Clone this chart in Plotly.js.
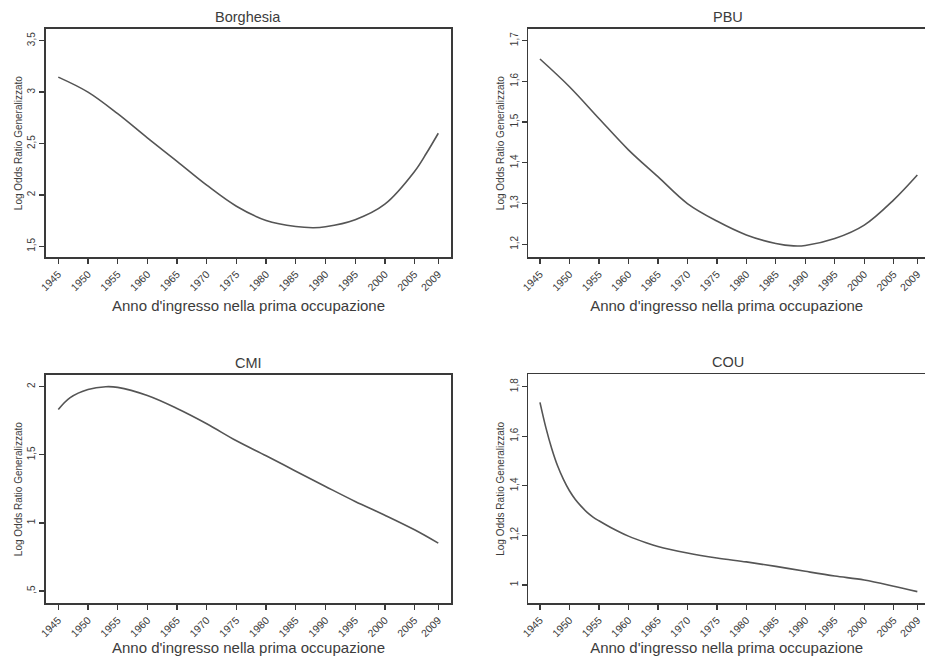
<!DOCTYPE html>
<html>
<head>
<meta charset="utf-8">
<script src="https://cdn.plot.ly/plotly-3.0.1.min.js"></script>
<style>html,body{margin:0;padding:0;background:#fff;}#chart{width:925px;height:656px;}</style>
</head>
<body>
<div id="chart"></div>
<script>
// ---- data ----
var panelTitles = ["Borghesia", "PBU", "CMI", "COU"];
var xTitle = "Anno d'ingresso nella prima occupazione";
var yTitle = "Log Odds Ratio Generalizzato";

var xTickVals = [1945, 1950, 1955, 1960, 1965, 1970, 1975, 1980, 1985, 1990, 1995, 2000, 2005, 2009];
var xTickText = ["1945", "1950", "1955", "1960", "1965", "1970", "1975", "1980", "1985", "1990", "1995", "2000", "2005", "2009"];

var borghesiaYears = [1945, 1950, 1955, 1960, 1965, 1970, 1975, 1980, 1985, 1988, 1990, 1995, 2000, 2005, 2007, 2009];
var borghesiaVals  = [3.146, 3.0, 2.79, 2.555, 2.327, 2.095, 1.89, 1.752, 1.692, 1.681, 1.69, 1.759, 1.91, 2.228, 2.405, 2.60];

var pbuYears = [1945, 1950, 1955, 1960, 1965, 1970, 1975, 1980, 1985, 1988, 1990, 1995, 2000, 2005, 2009];
var pbuVals  = [1.655, 1.587, 1.509, 1.432, 1.366, 1.30, 1.257, 1.223, 1.202, 1.196, 1.197, 1.214, 1.247, 1.309, 1.37];

var cmiYears = [1945, 1947, 1950, 1953, 1955, 1960, 1965, 1970, 1975, 1980, 1985, 1990, 1995, 2000, 2005, 2009];
var cmiVals  = [1.833, 1.92, 1.98, 2.0, 1.995, 1.935, 1.84, 1.728, 1.603, 1.493, 1.38, 1.268, 1.158, 1.057, 0.95, 0.852];

var couYears = [1945, 1946, 1947, 1948, 1949, 1950, 1951, 1952, 1953, 1954, 1955, 1957, 1960, 1963, 1965, 1970, 1975, 1980, 1985, 1990, 1995, 2000, 2005, 2009];
var couVals  = [1.737, 1.635, 1.55, 1.48, 1.425, 1.38, 1.345, 1.317, 1.293, 1.274, 1.259, 1.232, 1.197, 1.17, 1.155, 1.129, 1.109, 1.093, 1.075, 1.055, 1.036, 1.02, 0.995, 0.973];

var yTickVals = [[1.5, 2, 2.5, 3, 3.5], [1.2, 1.3, 1.4, 1.5, 1.6, 1.7], [0.5, 1, 1.5, 2], [1, 1.2, 1.4, 1.6, 1.8]];
var yTickText = [["1,5", "2", "2,5", "3", "3,5"], ["1,2", "1,3", "1,4", "1,5", "1,6", "1,7"], [",5", "1", "1,5", "2"], ["1", "1,2", "1,4", "1,6", "1,8"]];

// ---- build ----
var W = 925, H = 656;
var FONT = "Liberation Sans, Arial, Helvetica, sans-serif";
var lineCol = "#555555", axCol = "#3a3a3a", txtCol = "#3c3c3c";

var series = [[borghesiaYears, borghesiaVals], [pbuYears, pbuVals], [cmiYears, cmiVals], [couYears, couVals]];
var traces = series.map(function (s, i) {
  return {
    x: s[0], y: s[1], type: "scatter", mode: "lines",
    line: {color: lineCol, width: 1.6, shape: "spline", smoothing: 1},
    xaxis: "x" + (i ? i + 1 : ""), yaxis: "y" + (i ? i + 1 : ""),
    hoverinfo: "x+y", showlegend: false
  };
});

// pixel geometry of plot boxes
var boxes = [
  {l: 46, r: 451, t: 29, b: 257.3},
  {l: 528.3, r: 925, t: 29, b: 257.3},
  {l: 46, r: 451, t: 375, b: 603.3},
  {l: 528.3, r: 925, t: 374.3, b: 603.3}
];
var xRanges = [[1942.93, 2011.14], [1943.02, 2010.3], [1942.93, 2011.14], [1943.02, 2010.3]];
var yRanges = [[1.393, 3.614], [1.168, 1.7287], [0.41, 2.086], [0.926, 1.85]];

var layout = {
  width: W, height: H,
  margin: {l: 0, r: 0, t: 0, b: 0},
  paper_bgcolor: "#ffffff", plot_bgcolor: "#ffffff",
  font: {family: FONT, color: txtCol},
  showlegend: false,
  annotations: []
};

boxes.forEach(function (bx, i) {
  var sfx = i ? String(i + 1) : "";
  var right = (i === 1 || i === 3);
  layout["xaxis" + sfx] = {
    domain: [bx.l / W, Math.min(bx.r / W, 1)],
    range: xRanges[i],
    anchor: "y" + sfx,
    tickmode: "array", tickvals: xTickVals, ticktext: xTickText,
    tickangle: -45,
    ticks: "outside", ticklen: 5, tickwidth: 1.3, tickcolor: axCol,
    tickfont: {size: 10.5, color: txtCol, family: FONT},
    showline: true, linecolor: axCol, linewidth: 1.8, mirror: true,
    showgrid: false, zeroline: false, fixedrange: true,
    title: {text: xTitle, font: {size: 15, color: txtCol, family: FONT}, standoff: 8}
  };
  layout["yaxis" + sfx] = {
    domain: [1 - bx.b / H, 1 - bx.t / H],
    range: yRanges[i],
    anchor: "x" + sfx,
    tickmode: "array", tickvals: yTickVals[i], ticktext: yTickText[i],
    tickangle: -90,
    ticks: "outside", ticklen: 5, tickwidth: 1.3, tickcolor: axCol,
    tickfont: {size: 10, color: txtCol, family: FONT},
    showline: true, linecolor: axCol, linewidth: 1.8, mirror: !right,
    showgrid: false, zeroline: false, fixedrange: true,
    title: {text: yTitle, font: {size: 10, color: txtCol, family: FONT}, standoff: 2}
  };
  layout.annotations.push({
    text: panelTitles[i], showarrow: false,
    xref: "paper", yref: "paper",
    x: ((bx.l + Math.min(bx.r, 930)) / 2 + (right ? 1 : 0)) / W,
    y: 1 - (bx.t - 2) / H,
    xanchor: "center", yanchor: "bottom",
    font: {size: 14.5, color: txtCol, family: FONT}
  });
});

Plotly.newPlot("chart", traces, layout, {displayModeBar: false, staticPlot: true});
</script>
</body>
</html>
